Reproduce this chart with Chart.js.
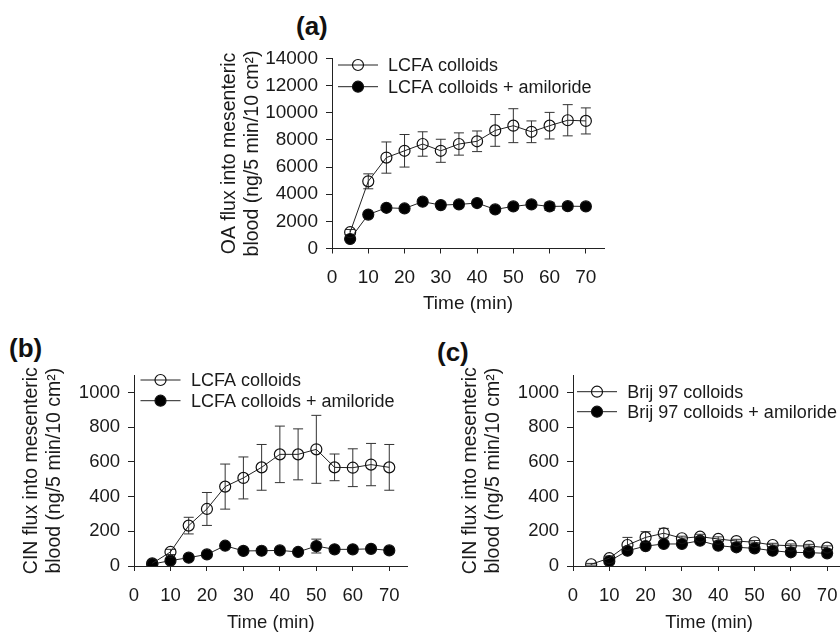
<!DOCTYPE html>
<html><head><meta charset="utf-8">
<script src="https://cdn.jsdelivr.net/npm/chart.js@4.4.1/dist/chart.umd.min.js"></script>
<style>
html,body{margin:0;padding:0;background:#fff;width:840px;height:634px;overflow:hidden;position:relative;}
.pl{position:absolute;font:bold 26px "Liberation Sans",Arial,sans-serif;color:#111;line-height:1;}
canvas{position:absolute;}
</style></head><body>
<div class="pl" style="left:296px;top:13px">(a)</div>
<div class="pl" style="left:9px;top:335px">(b)</div>
<div class="pl" style="left:437px;top:339px">(c)</div>
<canvas id="ca" width="422" height="320" style="left:218px;top:0px"></canvas>
<canvas id="cb" width="420" height="304" style="left:19.5px;top:330px"></canvas>
<canvas id="cc" width="400" height="304" style="left:458.7px;top:330px"></canvas>
<script>
// ---------- data ----------
const times = [5, 10, 15, 20, 25, 30, 35, 40, 45, 50, 55, 60, 65, 70];
const xTicks = [0, 10, 20, 30, 40, 50, 60, 70];
const yTicksA = [0, 2000, 4000, 6000, 8000, 10000, 12000, 14000];
const yTicksBC = [0, 200, 400, 600, 800, 1000];

// (a) OA flux
const aOpen      = [1200, 4950, 6700, 7200, 7700, 7200, 7700, 7900, 8700, 9050, 8600, 9050, 9450, 9400];
const aOpenErr   = [200, 550, 1150, 1200, 900, 850, 820, 760, 1170, 1250, 800, 980, 1150, 960];
const aFilled    = [700, 2500, 3000, 2950, 3450, 3200, 3250, 3350, 2880, 3100, 3250, 3100, 3120, 3100];
const aFilledErr = [100, 150, 150, 150, 150, 150, 150, 150, 200, 150, 150, 300, 200, 150];

// (b) CIN flux, LCFA colloids
const bOpen      = [15, 81, 233, 329, 458, 508, 569, 644, 644, 673, 569, 567, 585, 569];
const bOpenErr   = [5, 15, 48, 95, 130, 121, 132, 163, 147, 196, 77, 109, 122, 132];
const bFilled    = [11, 31, 48, 67, 117, 87, 88, 90, 81, 115, 96, 96, 99, 90];
const bFilledErr = [4, 8, 10, 10, 12, 10, 10, 10, 15, 40, 12, 12, 12, 10];

// (c) CIN flux, Brij 97 colloids
const cOpen      = [10, 45, 121, 165, 189, 160, 169, 156, 144, 137, 121, 117, 115, 106];
const cOpenErr   = [5, 12, 44, 33, 28, 12, 14, 12, 10, 10, 10, 10, 10, 10];
const cFilled    = [null, 28, 88, 115, 127, 127, 146, 117, 108, 102, 88, 79, 77, 73];
const cFilledErr = [0, 10, 12, 10, 10, 10, 10, 10, 10, 10, 8, 8, 8, 8];

const labelsAB = ['LCFA colloids', 'LCFA colloids + amiloride'];
const labelsC  = ['Brij 97 colloids', 'Brij 97 colloids + amiloride'];
const yTitleA = ['OA flux into mesenteric', 'blood (ng/5 min/10 cm\u00B2)'];
const yTitleBC = ['CIN flux into mesenteric', 'blood (ng/5 min/10 cm\u00B2)'];
const xTitle = 'Time (min)';

// ---------- rendering ----------
const FONT = '"Liberation Sans", Arial, Helvetica, sans-serif';
const INK = '#1a1a1a';

const errorBars = {
  id: 'errorBars',
  beforeDatasetsDraw(chart) {
    const {ctx, scales: {x, y}} = chart;
    chart.data.datasets.forEach(ds => {
      const errs = ds.errors;
      if (!errs) return;
      ctx.save();
      ctx.strokeStyle = '#333';
      ctx.lineWidth = 1;
      ds.data.forEach((p, j) => {
        if (p.y == null || !errs[j]) return;
        const px = x.getPixelForValue(p.x);
        const y1 = y.getPixelForValue(p.y + errs[j]);
        const y2 = y.getPixelForValue(p.y - errs[j]);
        ctx.beginPath();
        ctx.moveTo(px, y1); ctx.lineTo(px, y2);
        ctx.moveTo(px - 5, y1); ctx.lineTo(px + 5, y1);
        ctx.moveTo(px - 5, y2); ctx.lineTo(px + 5, y2);
        ctx.stroke();
      });
      ctx.restore();
    });
  }
};

const insideLegend = {
  id: 'insideLegend',
  afterDraw(chart, args, opts) {
    const {ctx, chartArea} = chart;
    ctx.save();
    chart.data.datasets.forEach((ds, i) => {
      const yy = chartArea.top + opts.rows[i];
      const x0 = chartArea.left + opts.lineFrom, x1 = chartArea.left + opts.lineTo;
      ctx.strokeStyle = ds.borderColor; ctx.lineWidth = 1;
      ctx.beginPath(); ctx.moveTo(x0, yy); ctx.lineTo(x1, yy); ctx.stroke();
      const mx = (x0 + x1) / 2;
      ctx.beginPath(); ctx.arc(mx, yy, ds.pointRadius, 0, Math.PI * 2);
      ctx.fillStyle = ds.pointBackgroundColor;
      ctx.fill();
      ctx.lineWidth = ds.pointBorderWidth; ctx.strokeStyle = ds.pointBorderColor; ctx.stroke();
      ctx.fillStyle = INK;
      ctx.font = opts.fontSize + 'px ' + FONT;
      ctx.textBaseline = 'middle'; ctx.textAlign = 'left';
      ctx.fillText(ds.label, chartArea.left + opts.textX, yy + 1);
    });
    ctx.restore();
  }
};

function series(vals) { return times.map((t, i) => ({x: t, y: vals[i]})); }

function makePanel(id, cfg) {
  const ds = (label, vals, errs, filled) => ({
    label, data: series(vals), errors: errs,
    borderColor: '#222', borderWidth: 1, tension: 0,
    pointRadius: 5.5, pointHoverRadius: 5.5,
    pointBorderColor: '#111', pointBorderWidth: 1.2,
    pointBackgroundColor: filled ? '#000' : 'rgba(255,255,255,0)',
    spanGaps: true
  });
  new Chart(document.getElementById(id), {
    type: 'line',
    data: {datasets: [
      ds(cfg.labels[0], cfg.open, cfg.openErr, false),
      ds(cfg.labels[1], cfg.filled, cfg.filledErr, true)
    ]},
    options: {
      responsive: false, animation: false,
      layout: {padding: cfg.padding},
      plugins: {
        legend: {display: false}, tooltip: {enabled: false},
        insideLegend: cfg.legend
      },
      scales: {
        x: {
          type: 'linear', min: 0, max: 75,
          afterBuildTicks: ax => { ax.ticks = xTicks.map(v => ({value: v})); },
          afterFit: s => { s.height = cfg.xHeight; },
          ticks: {padding: cfg.xTickPad, color: INK, font: {family: FONT, size: cfg.tickSize},
                  maxRotation: 0, autoSkip: false, callback: v => String(v)},
          grid: {display: true, drawOnChartArea: false, drawTicks: true, tickLength: 5, color: '#222', lineWidth: 1},
          border: {display: true, color: '#222', width: 1},
          title: {display: true, text: xTitle, color: INK, font: {family: FONT, size: cfg.tickSize}, padding: {top: 0, bottom: 0}}
        },
        y: {
          type: 'linear', min: 0, max: cfg.yMax,
          afterBuildTicks: ax => { ax.ticks = cfg.yTicks.map(v => ({value: v})); },
          afterFit: s => { s.width = cfg.yWidth; },
          ticks: {padding: 8, color: INK, font: {family: FONT, size: cfg.tickSize}, autoSkip: false,
                  callback: v => String(v)},
          grid: {display: true, drawOnChartArea: false, drawTicks: true, tickLength: 6, color: '#222', lineWidth: 1},
          border: {display: true, color: '#222', width: 1},
          title: {display: true, text: cfg.yTitle, color: INK, font: {family: FONT, size: 19.5, lineHeight: 1.2}, padding: {top: 0, bottom: 0}}
        }
      }
    },
    plugins: [errorBars, insideLegend]
  });
}

makePanel('ca', {
  labels: labelsAB, open: aOpen, openErr: aOpenErr, filled: aFilled, filledErr: aFilledErr,
  padding: {left: 0, top: 58.5, right: 36, bottom: 4.6},
  xHeight: 66.9, yWidth: 114, yMax: 14000, yTicks: yTicksA, tickSize: 19, xTickPad: 13,
  yTitle: yTitleA,
  legend: {rows: [6.5, 28.2], lineFrom: 6, lineTo: 46, textX: 56, fontSize: 18}
});
makePanel('cb', {
  labels: labelsAB, open: bOpen, openErr: bOpenErr, filled: bFilled, filledErr: bFilledErr,
  padding: {left: 0, top: 45.3, right: 32.5, bottom: 0},
  xHeight: 68, yWidth: 114, yMax: 1100, yTicks: yTicksBC, tickSize: 18.5, xTickPad: 14,
  yTitle: yTitleBC,
  legend: {rows: [4.7, 25.4], lineFrom: 6.5, lineTo: 46.5, textX: 57, fontSize: 18}
});
makePanel('cc', {
  labels: labelsC, open: cOpen, openErr: cOpenErr, filled: cFilled, filledErr: cFilledErr,
  padding: {left: 0, top: 45.3, right: 13.7, bottom: 0},
  xHeight: 68, yWidth: 114, yMax: 1100, yTicks: yTicksBC, tickSize: 18.5, xTickPad: 14,
  yTitle: yTitleBC,
  legend: {rows: [16.4, 36.4], lineFrom: 4, lineTo: 44, textX: 54.3, fontSize: 18}
});
</script>
</body></html>
